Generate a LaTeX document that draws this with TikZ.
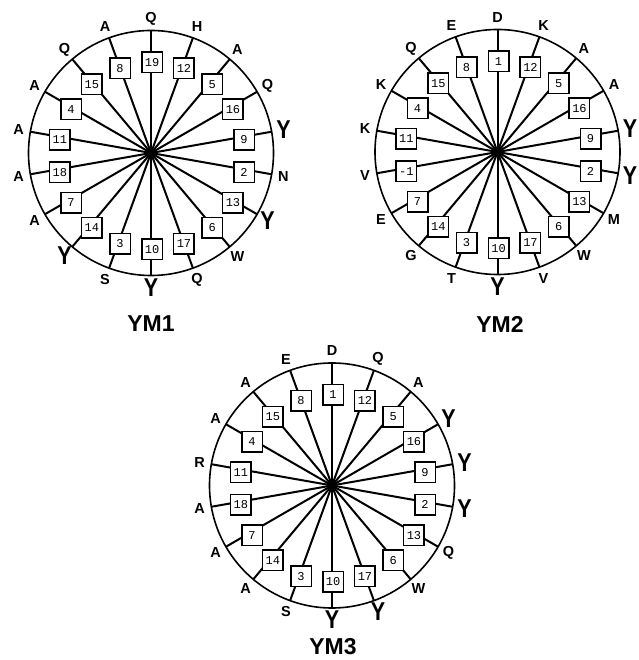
\documentclass[tikz,border=0pt]{standalone}
\usepackage{fontspec}
\setmainfont{Liberation Sans}
\setmonofont{Liberation Mono}
\usetikzlibrary{calc}
\tikzset{
  spoke/.style={line width=2pt},
  rim/.style={line width=1.6pt},
  numbox/.style={draw, fill=white, line width=1.5pt, minimum width=20.5pt, minimum height=20.5pt, inner sep=0pt, font=\fontsize{12}{12}\selectfont\ttfamily},
  lsmall/.style={font=\fontsize{14.5}{15}\selectfont\bfseries, inner sep=0pt},
  lbig/.style={font=\fontsize{21.5}{22}\selectfont\bfseries, inner sep=0pt},
  wtitle/.style={font=\fontsize{23}{24}\selectfont\bfseries, inner sep=0pt},
}
\newcommand\bigY{\scalebox{1}[1.2]{Y}}
\newcommand\drawwheel[3]{%
  \coordinate (#1c) at #2;
  \draw[rim] (#1c) circle[radius=122.5pt];
  \foreach \n/\l/\s [count=\k from 0] in {#3} {
    \pgfmathsetmacro\ang{90-20*\k}
    \coordinate (#1e\k) at ($(#1c)+(\ang:122.5pt)$);
    \draw[spoke] (#1c) -- (#1e\k);
    \node[numbox] (#1b\k) at ($(#1c)+(\ang:93.5pt)+(1pt,-3pt)$) {\n};
    \node[\s] (#1l\k) at ($(#1c)+(\ang:134.5pt)$) {\l};
  }
  \fill (#1c) circle[radius=3.8pt];
}
\begin{document}
\begin{tikzpicture}[x=1pt,y=1pt]
\useasboundingbox (0,0) rectangle (638,660);
\drawwheel{wa}{(151,507)}{19/Q/lsmall, 12/H/lsmall, 5/A/lsmall, 16/Q/lsmall, 9/\bigY/lbig, 2/N/lsmall, 13/\bigY/lbig, 6/W/lsmall, 17/Q/lsmall, 10/\bigY/lbig, 3/S/lsmall, 14/\bigY/lbig, 7/A/lsmall, 18/A/lsmall, 11/A/lsmall, 4/A/lsmall, 15/Q/lsmall, 8/A/lsmall}
\drawwheel{wb}{(497.5,508)}{1/D/lsmall, 12/K/lsmall, 5/A/lsmall, 16/A/lsmall, 9/\bigY/lbig, 2/\bigY/lbig, 13/M/lsmall, 6/W/lsmall, 17/V/lsmall, 10/\bigY/lbig, 3/T/lsmall, 14/G/lsmall, 7/E/lsmall, -1/V/lsmall, 11/K/lsmall, 4/K/lsmall, 15/Q/lsmall, 8/E/lsmall}
\drawwheel{wc}{(332,174.5)}{1/D/lsmall, 12/Q/lsmall, 5/A/lsmall, 16/\bigY/lbig, 9/\bigY/lbig, 2/\bigY/lbig, 13/Q/lsmall, 6/W/lsmall, 17/\bigY/lbig, 10/\bigY/lbig, 3/S/lsmall, 14/A/lsmall, 7/A/lsmall, 18/A/lsmall, 11/R/lsmall, 4/A/lsmall, 15/A/lsmall, 8/E/lsmall}
\node[wtitle] (ta) at (151,336) {YM1};
\node[wtitle] (tb) at (500,336) {YM2};
\node[wtitle] (tc) at (333,13) {YM3};
\end{tikzpicture}
\end{document}
